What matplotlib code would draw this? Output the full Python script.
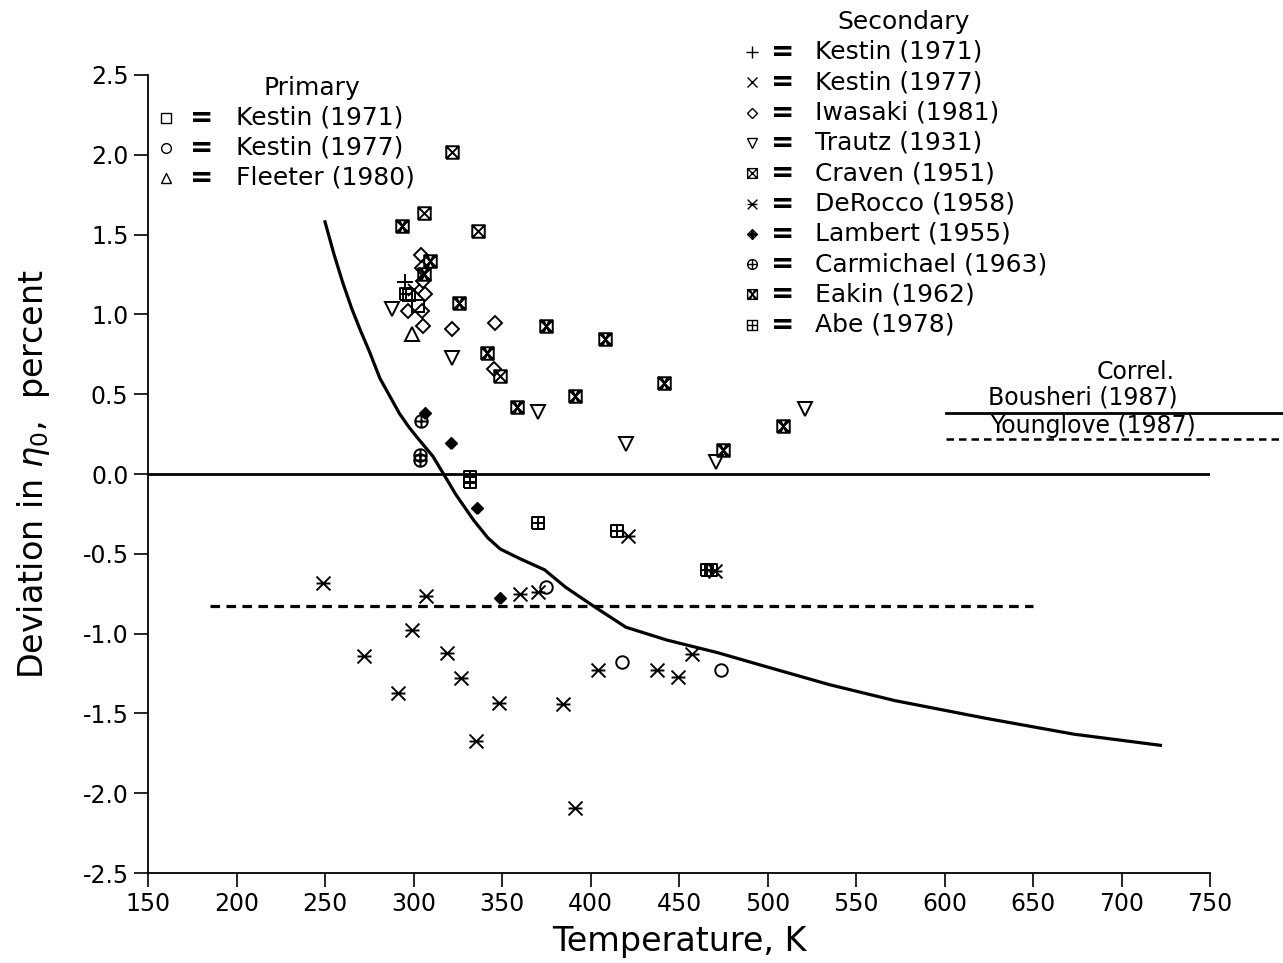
import numpy as np
import matplotlib
matplotlib.use("Agg")
import matplotlib.pyplot as plt
from matplotlib.path import Path
from matplotlib.lines import Line2D

# ---- data (T in K, deviation in percent) ----
kestin71_p_T = [297.5, 302.5]
kestin71_p_d = [1.12, 1.05]
kestin77_p_T = [375, 418, 474]
kestin77_p_d = [-0.71, -1.18, -1.23]
fleeter_T = [299]
fleeter_d = [0.875]

kestin71_s_T = [295]
kestin71_s_d = [1.205]
kestin77_s_T = [300]
kestin77_s_d = [1.15]
iwasaki_T = [304, 305, 305.5, 306.5, 296.7, 305, 305.5, 321.5, 346, 345.5]
iwasaki_d = [1.37, 1.29, 1.21, 1.13, 1.02, 1.02, 0.93, 0.91, 0.945, 0.66]
trautz_T = [288, 322, 370.5, 420, 471, 521]
trautz_d = [1.035, 0.725, 0.39, 0.19, 0.075, 0.405]
craven_T = [322, 306, 336.5, 349]
craven_d = [2.02, 1.635, 1.52, 0.615]
derocco_T = [248.7, 306.8, 360.2, 370.5, 299.3, 272, 319.1, 326.8, 291.4, 348.5,
             384.6, 335.1, 391.2, 421.4, 470.3, 404.4, 437.3, 449.2, 457.1]
derocco_d = [-0.68, -0.764, -0.75, -0.737, -0.98, -1.14, -1.12, -1.276, -1.37, -1.437,
             -1.44, -1.67, -2.09, -0.39, -0.61, -1.23, -1.23, -1.27, -1.128]
lambert_T = [306.5, 321.2, 335.7, 348.9]
lambert_d = [0.38, 0.196, -0.21, -0.78]
carmichael_T = [304, 303.7, 303.7]
carmichael_d = [0.33, 0.12, 0.09]
eakin_T = [293.3, 309.3, 306, 325.7, 341.7, 374.9, 408.2, 358.6, 391.2, 441.5, 475, 508.5]
eakin_d = [1.554, 1.336, 1.25, 1.07, 0.76, 0.93, 0.844, 0.42, 0.49, 0.568, 0.15, 0.30]
abe_T = [296, 332, 332, 370.5, 415, 465.6, 468]
abe_d = [1.13, -0.02, -0.05, -0.31, -0.355, -0.60, -0.60]

# correlation curve (Bousheri relative to reference)
curve_T = [250, 255, 260, 265, 270, 275, 281, 287, 292, 297, 302, 311, 317, 324, 334,
           342, 349, 360, 368, 374, 386, 402, 420, 443, 472, 497, 535, 572, 623, 673, 722]
curve_d = [1.58, 1.38, 1.20, 1.04, 0.90, 0.77, 0.60, 0.48, 0.38, 0.30, 0.23, 0.11, 0.0,
           -0.13, -0.29, -0.40, -0.47, -0.53, -0.57, -0.60, -0.71, -0.83, -0.96, -1.04,
           -1.12, -1.20, -1.32, -1.42, -1.53, -1.63, -1.70]
dashed_T = [185, 650]
dashed_d = [-0.83, -0.83]
bousheri_T = [601, 791]
bousheri_d = [0.385, 0.385]
younglove_T = [601, 791]
younglove_d = [0.22, 0.22]


# ---- custom marker shapes ----
def seg_path(segs, extra=None):
    verts, codes = [], []
    for seg in segs:
        verts.append(seg[0]); codes.append(Path.MOVETO)
        for p in seg[1:]:
            verts.append(p); codes.append(Path.LINETO)
    p = Path(verts, codes)
    if extra is not None:
        p = Path.make_compound_path(extra, p)
    return p


sq = [(-1, -1), (1, -1), (1, 1), (-1, 1), (-1, -1)]
m_craven = seg_path([sq, [(-1, -1), (1, 1)], [(-1, 1), (1, -1)]])
m_eakin = seg_path([sq, [(-1, -1), (1, 1)], [(-1, 1), (1, -1)],
                    [(-0.5, 1), (0.5, -1)], [(0.5, 1), (-0.5, -1)]])
m_abe = seg_path([sq, [(0, -1), (0, 1)], [(-1, 0), (1, 0)]])
m_derocco = seg_path([[(-1, -1), (1, 1)], [(-1, 1), (1, -1)], [(-1, 0), (1, 0)]])
m_lambert = seg_path([[(0, -1), (1, 0), (0, 1), (-1, 0), (0, -1)],
                      [(0, -1), (0, 1)], [(-1, 0), (1, 0)],
                      [(0, -0.5), (0.5, 0), (0, 0.5), (-0.5, 0), (0, -0.5)]])
m_carm = seg_path([[(0, -1), (0, 1)], [(-1, 0), (1, 0)]], extra=Path.unit_circle())

series = [
    (kestin71_p_T, kestin71_p_d, 's', 9),
    (kestin77_p_T, kestin77_p_d, 'o', 9),
    (fleeter_T, fleeter_d, '^', 10),
    (kestin71_s_T, kestin71_s_d, '+', 11),
    (kestin77_s_T, kestin77_s_d, 'x', 9),
    (iwasaki_T, iwasaki_d, 'D', 7),
    (trautz_T, trautz_d, 'v', 10),
    (craven_T, craven_d, m_craven, 9),
    (derocco_T, derocco_d, m_derocco, 10),
    (lambert_T, lambert_d, m_lambert, 8),
    (carmichael_T, carmichael_d, m_carm, 9),
    (eakin_T, eakin_d, m_eakin, 9),
    (abe_T, abe_d, m_abe, 9),
]

W, H = 1283, 963
fig = plt.figure(figsize=(W / 100, H / 100), dpi=100)
ax = fig.add_axes([148 / W, 1 - 873 / H, (1210 - 148) / W, (873 - 75) / H])

for T, d, m, ms in series:
    ax.plot(T, d, linestyle='none', marker=m, markersize=ms, markerfacecolor='none',
            markeredgecolor='black', markeredgewidth=1.4, color='black')

ax.plot(curve_T, curve_d, color='black', lw=2.3)
ax.axhline(0, color='black', lw=2.0)
ax.plot(dashed_T, dashed_d, color='black', lw=2.3, dashes=(3, 2))
ax.plot(bousheri_T, bousheri_d, color='black', lw=2.0, clip_on=False)
ax.plot(younglove_T, younglove_d, color='black', lw=1.8, dashes=(3, 2), clip_on=False)

ax.set_xlim(150, 750)
ax.set_ylim(-2.5, 2.5)
ax.set_xticks(np.arange(150, 751, 50))
ax.set_yticks(np.arange(-2.5, 2.51, 0.5))
ax.set_yticklabels([f"{v:.1f}" for v in np.arange(-2.5, 2.51, 0.5)])
ax.spines['top'].set_visible(False)
ax.spines['right'].set_visible(False)
ax.spines['left'].set_linewidth(1.3)
ax.spines['bottom'].set_linewidth(1.3)
ax.tick_params(direction='out', length=10, width=1.2, labelsize=17, pad=4)
ax.set_xlabel("Temperature, K", fontsize=24, labelpad=6)
ax.set_ylabel(r"Deviation in $\eta_0$,  percent", fontsize=24, labelpad=22)


# ---- legend blocks drawn in figure pixel coordinates ----
def fx(px):
    return px / W


def fy(py):
    return 1 - py / H


fig.text(fx(312), fy(88), "Primary", fontsize=18, ha='center', va='center')
prim = [('s', 7, "Kestin (1971)"), ('o', 7, "Kestin (1977)"), ('^', 7, "Fleeter (1980)")]
for i, (m, ms, lab) in enumerate(prim):
    y = 118 + 30 * i
    fig.add_artist(Line2D([fx(166)], [fy(y)], marker=m, markersize=ms, markerfacecolor='none',
                          markeredgecolor='black', markeredgewidth=1.0, linestyle='none',
                          transform=fig.transFigure))
    fig.text(fx(202), fy(y), "=", fontsize=20, fontweight='bold', ha='center', va='center')
    fig.text(fx(236), fy(y), lab, fontsize=18, ha='left', va='center')

fig.text(fx(904), fy(22), "Secondary", fontsize=18, ha='center', va='center')
sec = [('+', 9, "Kestin (1971)"), ('x', 7, "Kestin (1977)"), ('D', 5.5, "Iwasaki (1981)"),
       ('v', 7, "Trautz (1931)"), (m_craven, 7, "Craven (1951)"), (m_derocco, 7, "DeRocco (1958)"),
       (m_lambert, 7, "Lambert (1955)"), (m_carm, 7, "Carmichael (1963)"),
       (m_eakin, 7, "Eakin (1962)"), (m_abe, 7, "Abe (1978)")]
for i, (m, ms, lab) in enumerate(sec):
    y = 52 + 30.3 * i
    fig.add_artist(Line2D([fx(752)], [fy(y)], marker=m, markersize=ms, markerfacecolor='none',
                          markeredgecolor='black', markeredgewidth=1.0, linestyle='none',
                          transform=fig.transFigure))
    fig.text(fx(783), fy(y), "=", fontsize=20, fontweight='bold', ha='center', va='center')
    fig.text(fx(815), fy(y), lab, fontsize=18, ha='left', va='center')

fig.text(fx(1136), fy(372), "Correl.", fontsize=17, ha='center', va='center')
fig.text(fx(988), fy(398), "Bousheri (1987)", fontsize=17, ha='left', va='center')
fig.text(fx(990), fy(426), "Younglove (1987)", fontsize=17, ha='left', va='center')

fig.savefig("out.png", dpi=100)
